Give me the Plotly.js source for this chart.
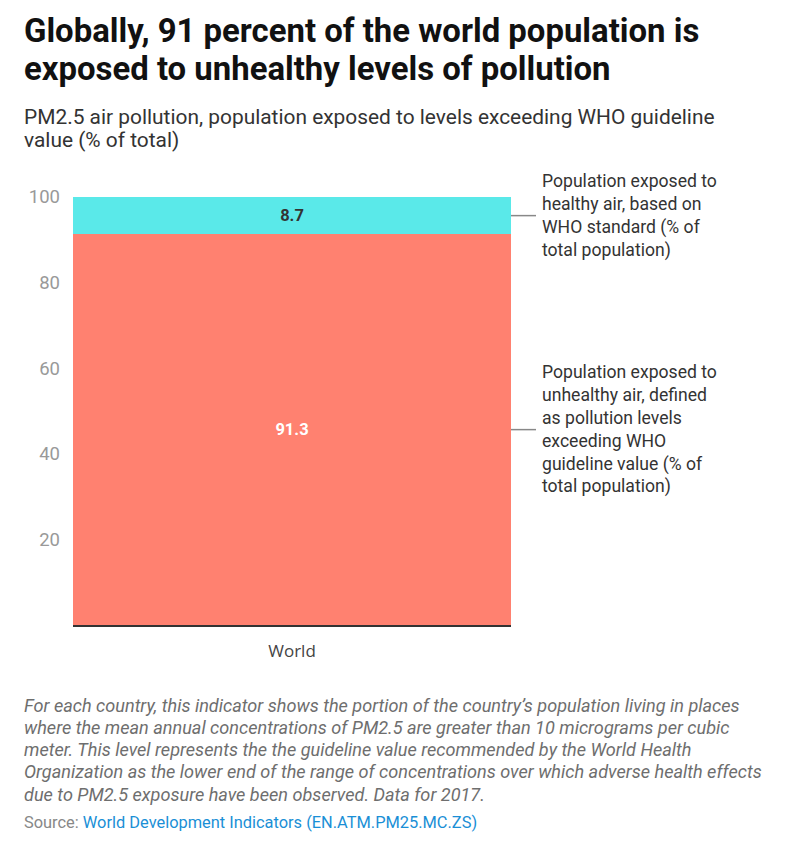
<!DOCTYPE html>
<html>
<head>
<meta charset="utf-8">
<script src="https://cdn.plot.ly/plotly-3.0.1.min.js"></script>
<style>
  html, body { margin: 0; padding: 0; background: #fff; }
  #chart { width: 790px; height: 862px; }
</style>
</head>
<body>
<div id="chart"></div>
<script>
// Share of world population by PM2.5 exposure, 2017
const categories = ["World"];
const unhealthyValues = [91.3];
const healthyValues = [8.7];
const seriesNames = [
  "Population exposed to<br>unhealthy air, defined<br>as pollution levels<br>exceeding WHO<br>guideline value (% of<br>total population)",
  "Population exposed to<br>healthy air, based on<br>WHO standard (% of<br>total population)"
];
const yTicks = [20, 40, 60, 80, 100];

const titleLines = [
  "Globally, 91 percent of the world population is",
  "exposed to unhealthy levels of pollution"
];
const subtitleLines = [
  "PM2.5 air pollution, population exposed to levels exceeding WHO guideline",
  "value (% of total)"
];
const noteLines = [
  "For each country, this indicator shows the portion of the country\u2019s population living in places",
  "where the mean annual concentrations of PM2.5 are greater than 10 micrograms per cubic",
  "meter. This level represents the the guideline value recommended by the World Health",
  "Organization as the lower end of the range of concentrations over which adverse health effects",
  "due to PM2.5 exposure have been observed. Data for 2017."
];
const sourceLabel = "Source: ";
const sourceName = "World Development Indicators (EN.ATM.PM25.MC.ZS)";

const COLORS = { unhealthy: "#ff8170", healthy: "#5ae9e9" };
const FONT = "Roboto, 'Noto Sans', sans-serif";

const traces = [
  {
    type: "bar", x: categories, y: unhealthyValues, name: "unhealthy",
    marker: { color: COLORS.unhealthy, line: { width: 0 } },
    texttemplate: "%{y:.1f}", textposition: "inside", insidetextanchor: "middle",
    textfont: { family: FONT, size: 16.5, color: "#ffffff", weight: "bold" },
    hoverinfo: "skip"
  },
  {
    type: "bar", x: categories, y: healthyValues, name: "healthy",
    marker: { color: COLORS.healthy, line: { width: 0 } },
    texttemplate: "%{y:.1f}", textposition: "inside", insidetextanchor: "middle",
    textfont: { family: FONT, size: 16.5, color: "#333333", weight: "bold" },
    hoverinfo: "skip"
  }
];

// Midpoints of each stacked segment, used for the side labels
const unhealthyMid = unhealthyValues[0] / 2;
const healthyMid = unhealthyValues[0] + healthyValues[0] / 2;

const W = 790, H = 862;
const M = { l: 73, r: 279, t: 197, b: 237 };
const plotW = W - M.l - M.r, plotH = H - M.t - M.b;
const px = xPix => (xPix - M.l) / plotW;
const py = yPix => (H - M.b - yPix) / plotH;

const textAt = (text, xPix, yPix, font) => ({
  text, xref: "paper", yref: "paper", x: px(xPix), y: py(yPix),
  xanchor: "left", yanchor: "middle", align: "left", showarrow: false, font
});

const titleFont = { family: FONT, size: 32.9, color: "#111111", weight: "bold" };
const subFont = { family: FONT, size: 20.9, color: "#333333" };
const noteFont = { family: FONT, size: 18.1, color: "#6e6e6e", style: "italic" };

const annotations = [
  textAt(titleLines[0], 22, 30, titleFont),
  textAt(titleLines[1], 22, 68, titleFont),
  textAt(subtitleLines[0], 22, 117, subFont),
  textAt(subtitleLines[1], 22, 140, subFont),
  {
    text: seriesNames[1],
    xref: "paper", yref: "y", x: px(540), y: healthyMid,
    xanchor: "left", yanchor: "middle", align: "left", showarrow: false,
    font: { family: FONT, size: 17.6, color: "#333333" }
  },
  {
    text: seriesNames[0],
    xref: "paper", yref: "y", x: px(540), y: unhealthyMid,
    xanchor: "left", yanchor: "middle", align: "left", showarrow: false,
    font: { family: FONT, size: 17.6, color: "#333333" }
  },
  ...noteLines.map((line, i) => textAt(line, 22, 705 + i * 22.25, noteFont)),
  textAt(sourceLabel + "<span style=\"color:#1a8fd6\">" + sourceName + "</span>", 22, 822,
         { family: FONT, size: 16.4, color: "#888888" })
];

const connector = yVal => ({
  type: "line", xref: "paper", yref: "y",
  x0: 1, x1: px(536), y0: yVal, y1: yVal,
  line: { color: "#888888", width: 1.5 }
});

const layout = {
  width: W, height: H,
  margin: M,
  paper_bgcolor: "#ffffff", plot_bgcolor: "#ffffff",
  barmode: "stack", bargap: 0,
  showlegend: false,
  font: { family: FONT, color: "#333333" },
  xaxis: {
    type: "category", range: [-0.5, 0.5],
    showline: true, linecolor: "#333333", linewidth: 1.5,
    ticks: "", showgrid: false, zeroline: false,
    ticklabelstandoff: 10,
    tickfont: { family: "'Open Sans', 'Noto Sans', sans-serif", size: 17, color: "#444444" }
  },
  yaxis: {
    range: [0, 100], tickvals: yTicks, ticktext: yTicks.map(String),
    showgrid: true, gridcolor: "#d8d8d8", gridwidth: 1,
    zeroline: false, showline: false, ticks: "",
    ticklabelstandoff: 12,
    tickfont: { family: FONT, size: 18.5, color: "#999999" }
  },
  shapes: [connector(healthyMid), connector(unhealthyMid)],
  annotations: annotations
};

Plotly.newPlot("chart", traces, layout, { displayModeBar: false, staticPlot: true });
</script>
</body>
</html>
